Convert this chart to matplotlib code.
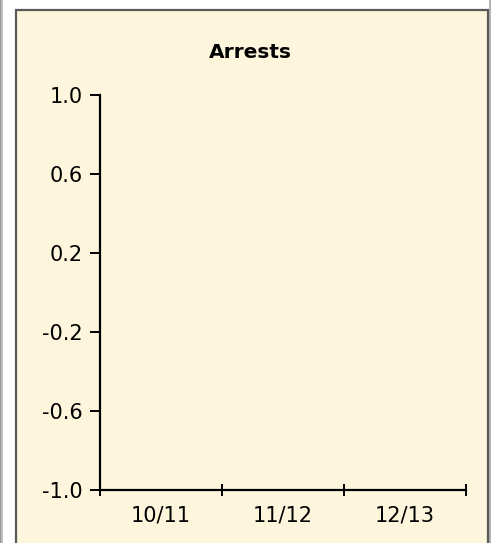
import numpy as np
import matplotlib.pyplot as plt
from matplotlib.patches import Rectangle

# data (chart has no values plotted)
categories = ['10/11', '11/12', '12/13']
y_ticks = [-1.0, -0.6, -0.2, 0.2, 0.6, 1.0]
title = 'Arrests'

W, H = 493, 543
fig = plt.figure(figsize=(W / 100, H / 100), dpi=100)
fig.patch.set_facecolor('white')

def px(x0, y0, w, h, **kw):
    # rectangle in pixel coords (top-left origin), kept behind the axes
    fig.patches.append(Rectangle((x0 / W, 1 - (y0 + h) / H), w / W, h / H,
                                 transform=fig.transFigure, figure=fig,
                                 zorder=-5, **kw))

# outer frame strips
px(0, 0, 1, H, facecolor='#9a9a9a', edgecolor='none')
px(1, 0, 2, H, facecolor='#bdbdbd', edgecolor='none')
px(489, 0, 2, H, facecolor='#b5b5b5', edgecolor='none')
# panel
px(16, 10, 472, H, facecolor='#fef6dc', edgecolor='#5a5a5a', linewidth=1.6)

ax = fig.add_axes([100 / W, 1 - 490 / H, 366 / W, (490 - 95) / H])
ax.set_zorder(2)
ax.set_facecolor('none')
ax.set_xlim(0, len(categories))
ax.set_ylim(-1.0, 1.0)

for s in ['top', 'right']:
    ax.spines[s].set_visible(False)
for s in ['left', 'bottom']:
    ax.spines[s].set_linewidth(1.6)
    ax.spines[s].set_color('black')

ax.set_yticks(y_ticks)
ax.set_yticklabels([f'{v:.1f}' for v in y_ticks])
ax.tick_params(axis='y', direction='out', length=7.5, width=1.4, pad=5,
               labelsize=15)

ax.set_xticks(np.arange(len(categories) + 1))
ax.set_xticklabels([])
ax.tick_params(axis='x', which='major', direction='inout', length=8, width=1.4)
ax.set_xticks(np.arange(len(categories)) + 0.5, minor=True)
ax.set_xticklabels(categories, minor=True)
ax.tick_params(axis='x', which='minor', length=0, pad=11, labelsize=15)

fig.text(250 / W, 1 - 52 / H, title, ha='center', va='center',
         fontsize=14.5, fontweight='bold')

fig.savefig('out.png', dpi=100)
